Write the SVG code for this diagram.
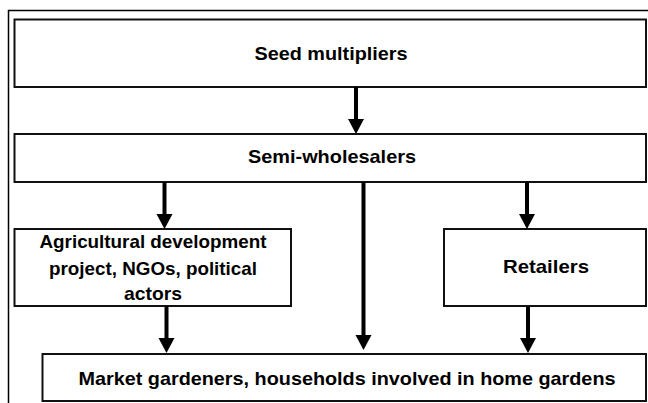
<svg xmlns="http://www.w3.org/2000/svg" width="648" height="403" viewBox="0 0 648 403">
<style>
.box{fill:#fff;stroke:#111;stroke-width:2}
.t{font-family:"Liberation Sans",Arial,sans-serif;font-weight:bold;font-size:18.5px;fill:#000;text-anchor:middle}
.c{stroke:#000;stroke-width:4;fill:none}
</style>
<rect width="648" height="403" fill="#fff"/>
<path d="M8.5 403 V10.5 H650" fill="none" stroke="#000" stroke-width="1.5"/>
<g id="seed"><rect class="box" x="14.5" y="19.5" width="631.5" height="67.5"/><text class="t" x="331" y="60" textLength="153" lengthAdjust="spacingAndGlyphs">Seed multipliers</text></g>
<g id="semi"><rect class="box" x="14.5" y="134" width="631.5" height="48"/><text class="t" x="332" y="163" textLength="168" lengthAdjust="spacingAndGlyphs">Semi-wholesalers</text></g>
<g id="agri"><rect class="box" x="14.5" y="229" width="276.5" height="77"/>
<text class="t" x="153" y="248" textLength="227" lengthAdjust="spacingAndGlyphs">Agricultural development</text>
<text class="t" x="153" y="275" textLength="208" lengthAdjust="spacingAndGlyphs">project, NGOs, political</text>
<text class="t" x="153" y="300" textLength="58" lengthAdjust="spacingAndGlyphs">actors</text></g>
<g id="retail"><rect class="box" x="444" y="229" width="202" height="77"/><text class="t" x="546" y="273" textLength="86" lengthAdjust="spacingAndGlyphs">Retailers</text></g>
<g id="market"><rect class="box" x="42.5" y="354" width="603.5" height="47"/><text class="t" x="347" y="385" textLength="537" lengthAdjust="spacingAndGlyphs">Market gardeners, households involved in home gardens</text></g>
<g id="connectors">
<path d="M356 87 V120" class="c"/><path d="M348 119 H364 L356 134 Z"/>
<path d="M164.5 182 V215" class="c"/><path d="M156.5 214 H172.5 L164.5 229 Z"/>
<path d="M363.5 182 V336" class="c"/><path d="M355.5 335 H371.5 L363.5 350 Z"/>
<path d="M527 182 V215" class="c"/><path d="M519 214 H535 L527 229 Z"/>
<path d="M166.5 306 V339" class="c"/><path d="M158.5 338 H174.5 L166.5 353 Z"/>
<path d="M528 306 V339" class="c"/><path d="M520 338 H536 L528 353 Z"/>
</g>
</svg>
